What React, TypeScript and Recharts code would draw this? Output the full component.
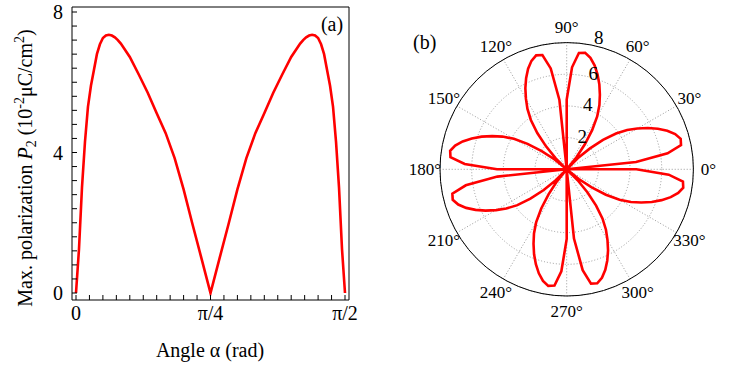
import {
  Label,
  Line,
  LineChart,
  PolarAngleAxis,
  PolarGrid,
  PolarRadiusAxis,
  Radar,
  RadarChart,
  XAxis,
  YAxis,
} from "recharts";

const FONT = '"Liberation Serif", "Times New Roman", serif';
const RED = "#ff0000";

// panel (a): angle in degrees (0..90 = 0..π/2), max polarization P2
const alphaDeg = [
  0, 1, 2, 3, 4, 5, 6, 7, 8, 9, 10, 11, 12, 13, 14, 15, 18, 21, 24, 27, 30, 33,
  36, 39, 42, 45, 48, 51, 54, 57, 60, 63, 66, 69, 72, 75, 76, 77, 78, 79, 80,
  81, 82, 83, 84, 85, 86, 87, 88, 89, 90,
];
const maxP2 = [
  0, 1.25, 3.0, 4.3, 5.3, 5.9, 6.35, 6.8, 7.08, 7.26, 7.33, 7.35, 7.33, 7.28,
  7.2, 7.1, 6.72, 6.22, 5.7, 5.12, 4.55, 3.84, 2.95, 1.95, 0.98, 0, 0.98, 1.95,
  2.95, 3.84, 4.55, 5.12, 5.7, 6.22, 6.72, 7.1, 7.2, 7.28, 7.33, 7.35, 7.33,
  7.26, 7.08, 6.8, 6.35, 5.9, 5.3, 4.3, 3.0, 1.25, 0,
];
const xTicks = [
  0, 4.5, 9, 13.5, 18, 22.5, 27, 31.5, 36, 40.5, 45, 49.5, 54, 58.5, 63, 67.5,
  72, 76.5, 81, 85.5, 90,
];
const xTickLabels: Record<number, string> = { 0: "0", 45: "π/4", 90: "π/2" };
const yTicks = [
  0, 0.4, 0.8, 1.2, 1.6, 2, 2.4, 2.8, 3.2, 3.6, 4, 4.4, 4.8, 5.2, 5.6, 6, 6.4,
  6.8, 7.2, 7.6, 8,
];
const yTickLabels: Record<number, string> = { 0: "0", 4: "4", 8: "8" };

// panel (b): polar plot, 3° steps counter-clockwise from 0°
const thetaDeg = Array.from({ length: 120 }, (_, i) => i * 3);
const polarP2 = [
  0, 4.4, 6.45, 7.38, 7.45, 7.2, 6.8, 6.3, 5.75, 5.15, 4.55, 3.85, 2.95, 1.95, 0.98,
  0, 0.98, 1.95, 2.95, 3.85, 4.55, 5.15, 5.75, 6.3, 6.8, 7.2, 7.45, 7.38, 6.45, 4.4,
  0, 4.4, 6.45, 7.38, 7.45, 7.2, 6.8, 6.3, 5.75, 5.15, 4.55, 3.85, 2.95, 1.95, 0.98,
  0, 0.98, 1.95, 2.95, 3.85, 4.55, 5.15, 5.75, 6.3, 6.8, 7.2, 7.45, 7.38, 6.45, 4.4,
  0, 4.4, 6.45, 7.38, 7.45, 7.2, 6.8, 6.3, 5.75, 5.15, 4.55, 3.85, 2.95, 1.95, 0.98,
  0, 0.98, 1.95, 2.95, 3.85, 4.55, 5.15, 5.75, 6.3, 6.8, 7.2, 7.45, 7.38, 6.45, 4.4,
  0, 4.4, 6.45, 7.38, 7.45, 7.2, 6.8, 6.3, 5.75, 5.15, 4.55, 3.85, 2.95, 1.95, 0.98,
  0, 0.98, 1.95, 2.95, 3.85, 4.55, 5.15, 5.75, 6.3, 6.8, 7.2, 7.45, 7.38, 6.45, 4.4,
];
const angleLabels = [0, 30, 60, 90, 120, 150, 180, 210, 240, 270, 300, 330];
const radiusTicks = [0, 2, 4, 6, 8];

const lineData = alphaDeg.map((a, i) => ({ alpha: a, p2: maxP2[i] }));
const polarData = thetaDeg.map((t, i) => ({ theta: t, p2: polarP2[i] }));

const CX = 186.7;
const CY = 169.3;
const OUTER_R = 126.7;

const serif = { fontFamily: FONT };
const tickFont = { fill: "#000", fontSize: 20, fontFamily: FONT, style: serif };

function AngleTick(props: any) {
  const a = Number(props.payload?.value);
  if (!angleLabels.includes(a)) return <g />;
  const rad = (a * Math.PI) / 180;
  const r = OUTER_R + 15;
  return (
    <text
      x={CX + r * Math.cos(rad)}
      y={CY - r * Math.sin(rad)}
      textAnchor="middle"
      dominantBaseline="central"
      fontSize={17}
      fontFamily={FONT}
      style={serif}
      fill="#000"
    >
      {a}°
    </text>
  );
}

function RadiusTick(props: any) {
  const v = Number(props.payload?.value);
  if (v === 0) return <g />;
  const lift = v === 8 ? 7 : 2;
  return (
    <text
      x={props.x + 10}
      y={props.y - lift}
      textAnchor="middle"
      dominantBaseline="central"
      fontSize={19}
      fontFamily={FONT}
      style={serif}
      fill="#000"
    >
      {v}
    </text>
  );
}

const yLabel = () => (
  <text
    x={32}
    y={168}
    transform="rotate(-90, 32, 168)"
    textAnchor="middle"
    fontSize={20}
    style={serif}
    fill="#000"
  >
    <tspan>Max. polarization </tspan>
    <tspan fontStyle="italic">P</tspan>
    <tspan fontSize={14} dy={4}>2</tspan>
    <tspan dy={-4}> (10</tspan>
    <tspan fontSize={14} dy={-8}>-2</tspan>
    <tspan dy={8}>μC/cm</tspan>
    <tspan fontSize={14} dy={-8}>2</tspan>
    <tspan dy={8}>)</tspan>
  </text>
);

const xLabel = () => (
  <text x={210} y={357} textAnchor="middle" fontSize={20} style={serif} fill="#000">
    Angle α (rad)
  </text>
);

const panelA = () => (
  <text x={332} y={31} textAnchor="middle" fontSize={20} style={serif} fill="#000">
    (a)
  </text>
);

export default function App() {
  return (
    <div
      style={{
        position: "absolute",
        left: 0,
        top: 0,
        width: 747,
        height: 372,
        background: "#fff",
        fontFamily: FONT,
      }}
    >
      <div style={{ position: "absolute", left: 0, top: 0 }}>
        <LineChart
          width={380}
          height={372}
          data={lineData}
          margin={{ top: 6, right: 30, bottom: 32, left: 32 }}
          style={serif}
        >
          <XAxis
            xAxisId="xb"
            type="number"
            dataKey="alpha"
            domain={[0, 90]}
            ticks={xTicks}
            interval={0}
            tickFormatter={(v: number) => xTickLabels[v] ?? ""}
            height={40}
            padding={{ left: 4, right: 4 }}
            tickSize={-5}
            tickMargin={11}
            axisLine={{ stroke: "#000" }}
            tickLine={{ stroke: "#000" }}
            tick={tickFont}
          >
            <Label content={xLabel} />
          </XAxis>
          <XAxis
            xAxisId="xt"
            orientation="top"
            type="number"
            dataKey="alpha"
            domain={[0, 90]}
            ticks={xTicks}
            interval={0}
            height={1}
            padding={{ left: 4, right: 4 }}
            tickSize={-5}
            tick={false}
            axisLine={{ stroke: "#000" }}
            tickLine={{ stroke: "#000" }}
          >
            <Label content={panelA} />
          </XAxis>
          <YAxis
            yAxisId="yl"
            type="number"
            domain={[0, 8]}
            ticks={yTicks}
            interval={0}
            tickFormatter={(v: number) => yTickLabels[v] ?? ""}
            width={40}
            padding={{ top: 5, bottom: 7 }}
            tickSize={-5}
            tickMargin={14}
            axisLine={{ stroke: "#000" }}
            tickLine={{ stroke: "#000" }}
            tick={tickFont}
          >
            <Label content={yLabel} />
          </YAxis>
          <YAxis
            yAxisId="yr"
            orientation="right"
            type="number"
            domain={[0, 8]}
            ticks={yTicks}
            interval={0}
            width={1}
            padding={{ top: 5, bottom: 7 }}
            tickSize={-5}
            tick={false}
            axisLine={{ stroke: "#000" }}
            tickLine={{ stroke: "#000" }}
          />
          <Line
            xAxisId="xb"
            yAxisId="yl"
            type="linear"
            dataKey="p2"
            stroke={RED}
            strokeWidth={2.6}
            dot={false}
            isAnimationActive={false}
          />
        </LineChart>
      </div>

      <div style={{ position: "absolute", left: 380, top: 0 }}>
        <RadarChart
          width={367}
          height={372}
          data={polarData}
          cx={CX}
          cy={CY}
          outerRadius={OUTER_R}
          startAngle={0}
          endAngle={360}
          margin={{ top: 0, right: 0, bottom: 0, left: 0 }}
          style={serif}
        >
          <PolarGrid
            gridType="circle"
            polarAngles={angleLabels}
            stroke="#9a9a9a"
            strokeDasharray="1 2"
          />
          <PolarAngleAxis
            dataKey="theta"
            tick={AngleTick}
            tickLine={false}
            axisLine={{ stroke: "#000" }}
            axisLineType="circle"
          />
          <PolarRadiusAxis
            angle={80}
            type="number"
            domain={[0, 8]}
            ticks={radiusTicks}
            tick={RadiusTick}
            axisLine={false}
            tickLine={false}
          />
          <Radar
            dataKey="p2"
            stroke={RED}
            strokeWidth={2.6}
            fill="none"
            fillOpacity={0}
            dot={false}
            isAnimationActive={false}
          />
        </RadarChart>
        <div
          style={{
            position: "absolute",
            left: 33,
            top: 30,
            fontSize: 20,
            fontFamily: FONT,
            color: "#000",
            lineHeight: "24px",
          }}
        >
          (b)
        </div>
      </div>
    </div>
  );
}
